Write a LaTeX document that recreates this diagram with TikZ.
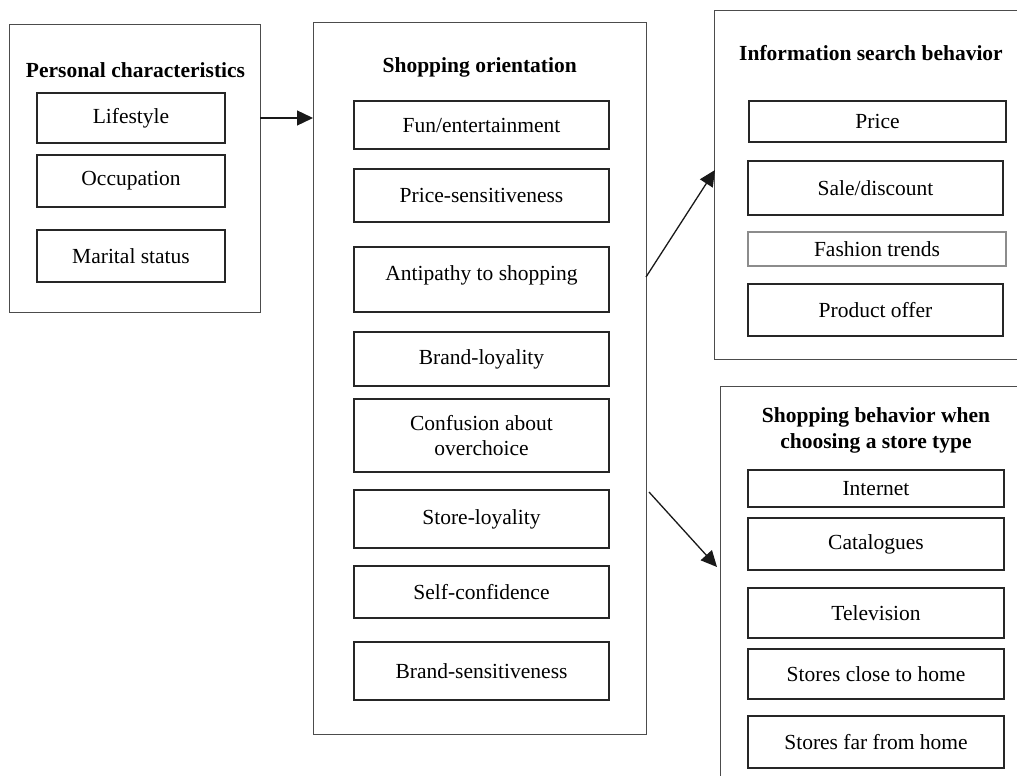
\documentclass[tikz,border=0pt]{standalone}
\usepackage{fontspec}
\setmainfont{Liberation Serif}
\usetikzlibrary{arrows.meta,calc}
\begin{document}
\begin{tikzpicture}[x=1pt,y=-1pt,
  outerbox/.style={draw=black!70, line width=1pt, inner sep=0pt, outer sep=0pt},
  itembox/.style={draw=black!85, line width=1.1pt, inner sep=0pt, outer sep=0pt,
    font=\fontsize{21.5}{25}\selectfont, align=center},
  ttl/.style={font=\fontsize{21.5}{26}\selectfont\bfseries, align=center, inner sep=0pt},
  arr/.style={line width=1.3pt, black!90, -{Triangle[length=16pt,width=15pt]}}]
\useasboundingbox (0,0) rectangle (1017,776);
\fill[white] (0,0) rectangle (1017,776);
\clip (0,0) rectangle (1017,776);

% Personal characteristics
\node[outerbox, minimum width=251pt, minimum height=287pt] (po) at (134.5,168.5) {};
\node[ttl] (pot) at (135.5,70) {Personal characteristics};
\node[itembox, minimum width=188pt, minimum height=50pt] (lif) at (131,118) {Lifestyle};
\node[itembox, minimum width=188pt, minimum height=52pt] (occ) at (131,181) {Occupation};
\node[itembox, minimum width=188pt, minimum height=52pt] (mar) at (131,256) {Marital status};

% Shopping orientation
\node[outerbox, minimum width=333pt, minimum height=711pt] (so) at (479.5,378.5) {};
\node[ttl] (sot) at (479.7,67) {Shopping orientation};
\node[itembox, minimum width=255pt, minimum height=48pt] (fun) at (481.5,125) {Fun/entertainment};
\node[itembox, minimum width=255pt, minimum height=53pt] (prs) at (481.5,195.5) {Price-sensitiveness};
\node[itembox, minimum width=255pt, minimum height=65pt] (anti) at (481.5,279.5) {\raisebox{13pt}{Antipathy to shopping}};
\node[itembox, minimum width=255pt, minimum height=54pt] (bl) at (481.5,359) {Brand-loyality};
\node[itembox, minimum width=255pt, minimum height=73pt] (conf) at (481.5,435.5) {Confusion about\\overchoice};
\node[itembox, minimum width=255pt, minimum height=58pt] (sl) at (481.5,519) {Store-loyality};
\node[itembox, minimum width=255pt, minimum height=52pt] (sc) at (481.5,592) {Self-confidence};
\node[itembox, minimum width=255pt, minimum height=58pt] (bs) at (481.5,671) {Brand-sensitiveness};

% Information search behavior
\node[outerbox, minimum width=311pt, minimum height=348pt] (info) at (869.5,185) {};
\node[ttl] (infot) at (871,53) {Information search behavior};
\node[itembox, minimum width=257pt, minimum height=41pt] (price) at (877.5,121.5) {Price};
\node[itembox, minimum width=255pt, minimum height=54pt] (sale) at (875.5,188) {Sale/discount};
\node[itembox, draw=black!45, minimum width=258pt, minimum height=34pt] (fash) at (877,249) {Fashion trends};
\node[itembox, minimum width=255pt, minimum height=52pt] (prod) at (875.5,310) {Product offer};

% Shopping behavior when choosing a store type
\node[outerbox, minimum width=305pt, minimum height=404pt] (sb) at (872.5,588) {};
\node[ttl] (sbt) at (876,430) {Shopping behavior when\\choosing a store type};
\node[itembox, minimum width=256pt, minimum height=37pt] (inet) at (876,488.5) {Internet};
\node[itembox, minimum width=256pt, minimum height=52pt] (cat) at (876,544) {Catalogues};
\node[itembox, minimum width=256pt, minimum height=50pt] (tv) at (876,613) {Television};
\node[itembox, minimum width=256pt, minimum height=50pt] (close) at (876,674) {Stores close to home};
\node[itembox, minimum width=256pt, minimum height=52pt] (far) at (876,742) {Stores far from home};

% Arrows
\draw[arr] (lif -| po.east) -- (lif -| so.west);
\coordinate (a2s) at ($(so.east)+(0,-101.5)$);
\coordinate (a2e) at ($(info.west)+(1,-15)$);
\draw[arr] (a2s) -- (a2e);
\coordinate (a3s) at ($(so.east)+(3,113.5)$);
\coordinate (a3e) at ($(sb.west)+(-3,-21)$);
\draw[arr] (a3s) -- (a3e);
\end{tikzpicture}
\end{document}
